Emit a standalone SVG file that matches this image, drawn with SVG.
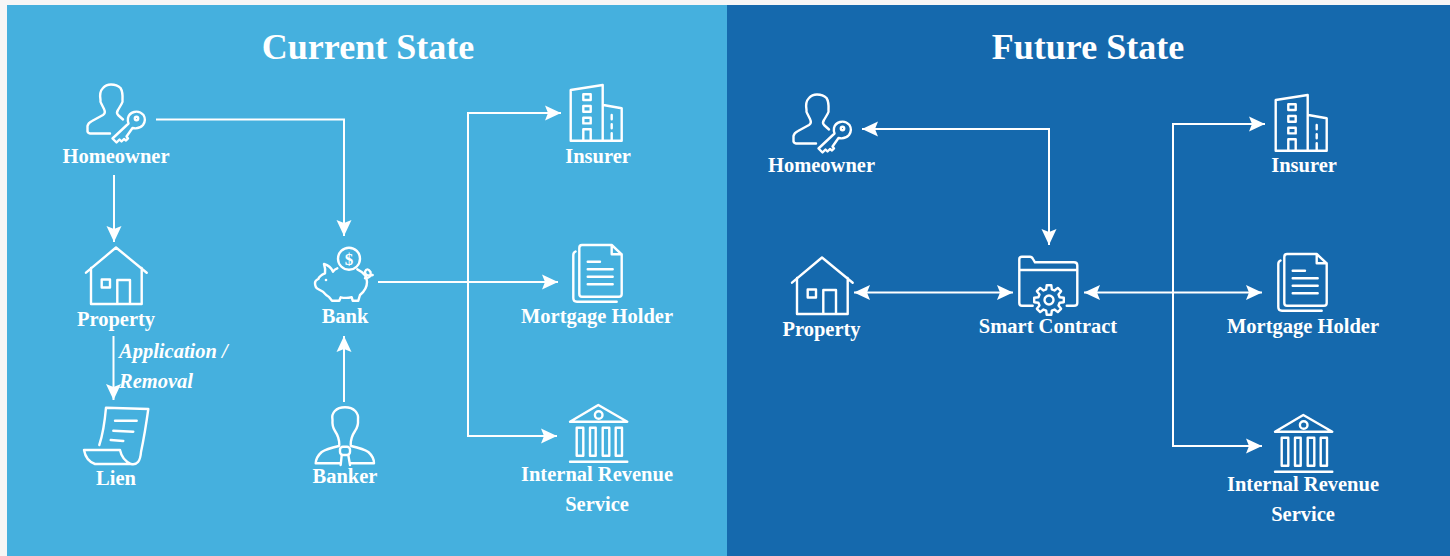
<svg xmlns="http://www.w3.org/2000/svg" width="1450" height="556" viewBox="0 0 1450 556">
<style>
text{font-family:"Liberation Serif","Times New Roman",serif;font-weight:700;fill:#fff;text-anchor:middle}
.t{font-size:36px}
.l{font-size:20.5px}
.i{font-style:italic;text-anchor:start}
.s{fill:none;stroke:#fff;stroke-width:2.4;stroke-linejoin:round;stroke-linecap:round}
.c{fill:none;stroke:#fff;stroke-width:2}
</style>
<defs>
<marker id="a" markerUnits="userSpaceOnUse" markerWidth="18" markerHeight="18" refX="16" refY="8" orient="auto-start-reverse" viewBox="0 0 18 18"><path d="M0 0.500L16 8L0 15.500L3 8Z" fill="#fff"/></marker>
<g id="ih" class="s"><path d="M110 133.500H90Q87 133 87.500 130L87.500 126Q88 123 92 121L103 115Q106 113 104 109L101.500 104Q100 102 100.500 100Q99 92 103 88Q106 84.500 111 84.500Q117 84.500 120.500 88Q123 92 122.500 100Q123 102 121.500 104L118 110Q116 113 118 115L123 119.500"/><path d="M128.500 123.500L112.500 138.500L116.500 142.500L119.500 139.500L121.500 141.500L124 139L126 140.500L128 138.500L126.500 136.500L132.500 128Q139 129.500 143 125Q146.500 120 143.500 115Q139.500 110.500 134 112Q129 113.500 128 118Q127.500 121 128.500 123.500Z"/><circle cx="136.500" cy="118.500" r="1.700"/></g>
<g id="ip" class="s"><path d="M86 272.700L116 247.500L146.700 272.700M91 268V304H141.700V268M117.300 304V280H130V304"/><rect x="101.700" y="279.500" width="8.300" height="8"/></g>
<g id="ii" class="s"><path d="M570.700 90L602.700 85V140.700H570.700ZM603.300 105L621.700 108.300V140.700H602.700M583.300 140.700V129.300H590.700V140.700M611.700 115V119.300M611.700 124.300V128.300M611.700 133.300V140.700"/><rect x="583.300" y="94.300" width="7.400" height="5.700"/><rect x="583.300" y="106" width="7.400" height="5.700"/><rect x="583.300" y="117.700" width="7.400" height="5.700"/></g>
<g id="id" class="s"><path d="M611.700 245H582Q579.300 245 579.300 248V294Q579.300 296.700 582 296.700H619Q621.700 296.700 621.700 294V254.300ZM611.700 245V254.300H621.700M575.500 251.500Q573.300 252.500 573.300 255V298Q573.300 301.700 577 301.700H616.700M587.700 261.700H600M587.700 269.300H612.700M587.700 276.700H612.700M587.700 284.300H612.700"/></g>
<g id="ib" class="s"><path d="M570 421.700L598.300 405L627.300 421.700ZM570 461.700H627.300"/><circle cx="598.700" cy="415" r="3.800"/><rect x="576.700" y="427.700" width="6.600" height="28"/><rect x="590" y="427.700" width="5.700" height="28"/><rect x="602.700" y="427.700" width="6.600" height="28"/><rect x="615.700" y="427.700" width="6.300" height="28"/></g>
</defs>
<rect width="1450" height="556" fill="#f6f6f6"/>
<rect x="7" y="5" width="720" height="551" fill="#45b0de"/>
<rect x="727" y="5" width="723" height="551" fill="#1569ad"/>
<text class="t" x="368" y="59">Current State</text>
<text class="t" x="1088" y="59">Future State</text>
<g id="connectors" class="c">
<path d="M156 119.500H344V236" marker-end="url(#a)"/>
<path d="M114 175V242" marker-end="url(#a)"/>
<path d="M113.500 336V400" marker-end="url(#a)"/>
<path d="M344 402V336" marker-end="url(#a)"/>
<path d="M378 282H558" marker-end="url(#a)"/>
<path d="M561 113H468V436H557" marker-start="url(#a)" marker-end="url(#a)"/>
<path d="M862 129H1049V245" marker-start="url(#a)" marker-end="url(#a)"/>
<path d="M854 292.500H1013" marker-start="url(#a)" marker-end="url(#a)"/>
<path d="M1084 292.500H1262" marker-start="url(#a)" marker-end="url(#a)"/>
<path d="M1265 124H1173V446H1262" marker-start="url(#a)" marker-end="url(#a)"/>
</g>
<g id="cur-homeowner"><use href="#ih"/><text class="l" x="116" y="163">Homeowner</text></g>
<g id="cur-property"><use href="#ip"/><text class="l" x="116" y="326">Property</text></g>
<g id="cur-lien"><g class="s"><path d="M99.300 445Q104 431 106 407.700L148.300 409Q145 433 141 452Q140 466 131 464H95Q86 461 84 450H120Q122 460 131 464M115 420.700H136.700M113.300 430.700L133.300 431.700M110.700 440L123.300 441"/></g><text class="l" x="116" y="485">Lien</text></g>
<g id="cur-bank"><g class="s"><circle cx="349" cy="258.700" r="11"/><path d="M337.300 268.300C335 269 334 270 333 271.700C331 267 328 265 324 264C325 267 325.500 270 325 273.300C321 275 319 277 318.300 279C316 280 315 281 315 283C315 286 316 288 318 289L323 291.700C325 294 327 296 329 297L332 300.700H339.300L340.700 297.300C344 298 348 298 351.700 297.300L352.700 300.700H358.300L360 295C365 291 367 287 367 282C367 276 363 272 357.300 269.300M365 278.300Q372 278 370.500 272Q367 267 365 271.700Q365 277 372.700 275"/></g><circle cx="326" cy="280" r="1.300" fill="#fff"/><text x="349" y="265" style="font-size:17px">$</text><text class="l" x="345" y="323">Bank</text></g>
<g id="cur-banker"><g class="s"><path d="M339.300 445C339.500 438 337 434 335 431C333 428 332 426 332.500 420C331 413 336 407.300 345 407.300C354 407.300 359 413 358 420C358.500 426 357 428 355 431C353 434 350.500 438 350.700 445M339 446Q326 449 321.700 452Q316 457 315.700 463.300H339.300M351 446Q364 449 368.300 452Q374 457 374 463.300H350.700M341.700 455L340.700 465M348.300 455L350 465"/><rect x="340" y="446.700" width="10" height="8.300" rx="3"/></g><text class="l" x="345" y="483">Banker</text></g>
<g id="cur-insurer"><use href="#ii"/><text class="l" x="598" y="163">Insurer</text></g>
<g id="cur-mortgage"><use href="#id"/><text class="l" x="597" y="323">Mortgage Holder</text></g>
<g id="cur-irs"><use href="#ib"/><text class="l" x="597" y="481">Internal Revenue</text><text class="l" x="597" y="511">Service</text></g>
<text class="l i" x="119" y="358">Application /</text>
<text class="l i" x="119" y="388">Removal</text>
<g id="fut-homeowner"><use href="#ih" x="706" y="10"/><text class="l" x="821.500" y="172">Homeowner</text></g>
<g id="fut-property"><use href="#ip" x="706" y="10"/><text class="l" x="821.500" y="336">Property</text></g>
<g id="fut-smart"><g class="s"><path d="M1032.700 305.700H1022Q1019.300 305.700 1019.300 303V259Q1019.300 256.700 1022 256.700H1030Q1032 256.700 1033 259L1035 262.300H1074Q1077.300 262.300 1077.300 265.500V303Q1077.300 305.700 1074 305.700H1066.700M1019.300 270H1077.300"/><g transform="translate(1049 300)"><path d="M10.600-2.800L14.800-2.300L14.800 2.300L10.600 2.800L9.500 5.500L12.100 8.800L8.800 12.100L5.500 9.500L2.800 10.600L2.300 14.800L-2.300 14.800L-2.800 10.600L-5.500 9.500L-8.800 12.100L-12.100 8.800L-9.500 5.500L-10.600 2.800L-14.800 2.300L-14.800-2.300L-10.600-2.800L-9.500-5.500L-12.100-8.800L-8.800-12.100L-5.500-9.500L-2.800-10.600L-2.300-14.800L2.300-14.800L2.800-10.600L5.500-9.500L8.800-12.100L12.100-8.800L9.500-5.500Z"/><circle r="4.500"/></g></g><text class="l" x="1048" y="333">Smart Contract</text></g>
<g id="fut-insurer"><use href="#ii" x="705" y="10"/><text class="l" x="1304" y="172">Insurer</text></g>
<g id="fut-mortgage"><use href="#id" x="705" y="9"/><text class="l" x="1303" y="333">Mortgage Holder</text></g>
<g id="fut-irs"><use href="#ib" x="705" y="10"/><text class="l" x="1303" y="491">Internal Revenue</text><text class="l" x="1303" y="521">Service</text></g>
</svg>
